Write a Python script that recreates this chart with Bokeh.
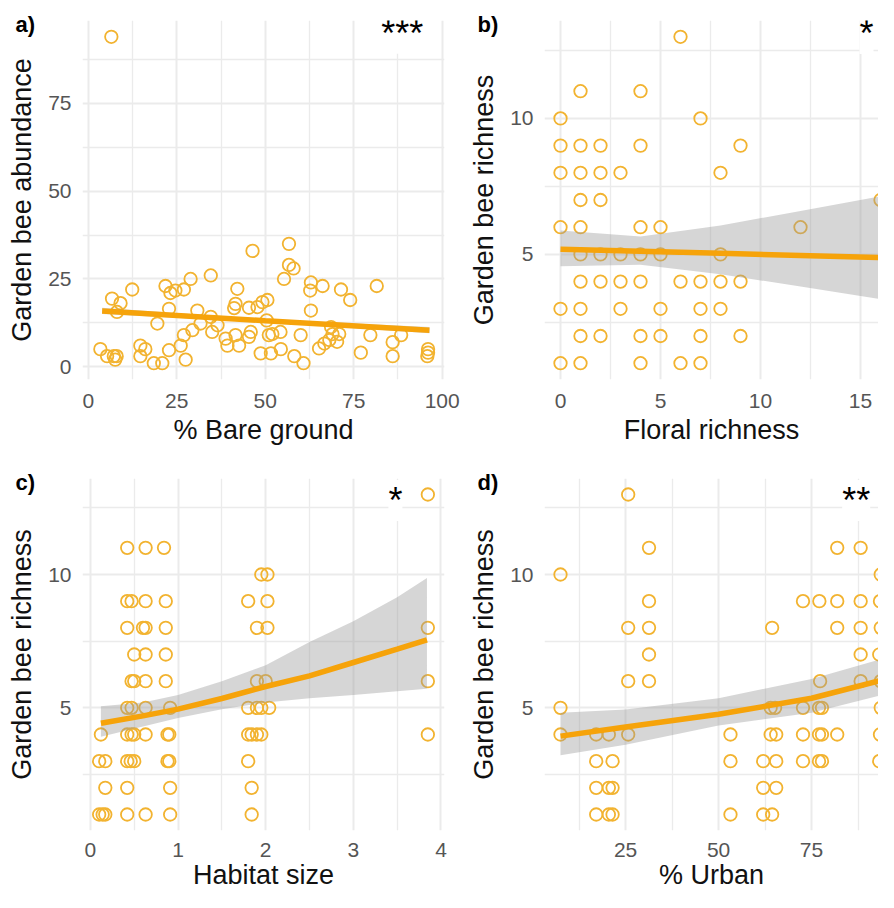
from bokeh.plotting import figure
from bokeh.models import FixedTicker, Label, Range1d
from bokeh.layouts import column, row
from bokeh.embed import file_html
from bokeh.resources import INLINE

# ---------------- data ----------------
# a) % bare ground vs garden bee abundance
a_bare = [6.5, 3.4, 5.3, 7.2, 7.6, 8.0, 6.7, 9.1, 8.1, 12.4, 14.7, 16.1, 14.7, 18.5, 20.9,
          19.5, 21.8, 23.2, 24.6, 27.0, 22.8, 22.8, 26.1, 27.0, 27.5, 29.4, 28.9, 30.8, 31.7,
          34.6, 34.6, 35.0, 36.5, 38.8, 39.3, 41.6, 41.2, 42.1, 41.6, 42.6, 45.4, 45.9, 46.4,
          45.4, 47.8, 49.2, 48.7, 50.6, 50.4, 51.6, 52.0, 54.3, 51.0, 54.4, 55.3, 56.7, 56.7,
          58.0, 58.2, 60.8, 60.0, 62.9, 62.7, 66.2, 62.9, 65.2, 66.7, 68.1, 69.0, 70.9, 70.3,
          68.6, 71.4, 74.0, 77.0, 79.7, 81.5, 86.0, 86.0, 88.4, 96.0, 96.0, 95.8]
a_abund = [94, 5, 3, 3, 2, 3, 19.4, 18.1, 15.6, 22, 6, 5, 3, 1, 1,
           12.3, 23, 21, 21.7, 22, 16.5, 4.7, 6, 9, 2, 10.4, 25, 16, 12.3,
           26, 14.2, 9.9, 11.8, 8, 6, 17.9, 16.7, 22.2, 9, 6, 8.5, 9.9, 33,
           16.8, 17, 18.4, 3.8, 19, 13.2, 3.8, 9.3, 9.9, 9, 5, 25, 35, 29,
           28, 3, 1, 9, 24, 21.7, 23, 16, 5.2, 6.6, 7.6, 9.3, 9.3, 7.1,
           11.3, 22, 19, 4, 9, 23, 7, 3, 9, 5, 4, 3]
a_fit_x = [3.9, 50.0, 96.4]
a_fit_y = [15.9, 13.1, 10.4]
a_fit_lo = [15.0, 12.7, 9.5]
a_fit_hi = [16.8, 13.5, 11.3]

# b) floral richness vs garden bee richness
b_floral = [6,
            1, 4,
            0, 7,
            0, 1, 2, 4, 9,
            0, 1, 2, 3, 8,
            1, 2, 16,
            0, 1, 4, 5, 12,
            1, 2, 3, 4, 5, 8,
            1, 2, 3, 4, 6, 7, 8, 9,
            0, 1, 3, 5, 7, 8,
            1, 2, 4, 5, 7, 9,
            0, 1, 4, 6, 7]
b_rich = [13,
          11, 11,
          10, 10,
          9, 9, 9, 9, 9,
          8, 8, 8, 8, 8,
          7, 7, 7,
          6, 6, 6, 6, 6,
          5, 5, 5, 5, 5, 5,
          4, 4, 4, 4, 4, 4, 4, 4,
          3, 3, 3, 3, 3, 3,
          2, 2, 2, 2, 2, 2,
          1, 1, 1, 1, 1]
b_fit_x = [0, 4, 8, 12, 16]
b_fit_y = [5.19, 5.12, 5.04, 4.96, 4.88]
b_fit_lo = [4.56, 4.62, 4.27, 3.82, 3.35]
b_fit_hi = [5.88, 5.66, 6.06, 6.60, 7.14]

# c) habitat size vs garden bee richness
c_habitat = [3.85,
             0.42, 0.63, 0.84,
             1.95, 2.02,
             0.42, 0.47, 0.63, 0.86, 1.80, 2.02,
             0.42, 0.60, 0.63, 0.86, 1.90, 2.02, 3.85,
             0.50, 0.63, 0.86,
             0.47, 0.50, 0.63, 0.86, 1.90, 2.00, 3.85,
             0.42, 0.47, 0.63, 0.91, 1.80, 1.90, 1.95, 2.04,
             0.12, 0.42, 0.47, 0.50, 0.63, 0.88, 0.90, 1.80, 1.84, 1.90, 1.95, 3.85,
             0.10, 0.17, 0.42, 0.46, 0.50, 0.88, 0.90, 1.80,
             0.17, 0.42, 0.91, 1.84,
             0.10, 0.14, 0.17, 0.42, 0.63, 0.91, 1.84]
c_rich = [13,
          11, 11, 11,
          10, 10,
          9, 9, 9, 9, 9, 9,
          8, 8, 8, 8, 8, 8, 8,
          7, 7, 7,
          6, 6, 6, 6, 6, 6, 6,
          5, 5, 5, 5, 5, 5, 5, 5,
          4, 4, 4, 4, 4, 4, 4, 4, 4, 4, 4, 4,
          3, 3, 3, 3, 3, 3, 3, 3,
          2, 2, 2, 2,
          1, 1, 1, 1, 1, 1, 1]
c_fit_x = [0.12, 0.6, 1.0, 1.5, 2.0, 2.5, 3.0, 3.5, 3.84]
c_fit_y = [4.42, 4.70, 4.95, 5.35, 5.80, 6.20, 6.70, 7.20, 7.55]
c_fit_lo = [3.92, 4.30, 4.62, 4.95, 5.20, 5.36, 5.48, 5.62, 5.72]
c_fit_hi = [5.06, 5.20, 5.48, 6.00, 6.60, 7.47, 8.25, 9.15, 9.87]

# d) % urban vs garden bee richness
d_urban = [25.7,
           31.3, 81.9, 88.2,
           7.5, 93.6,
           31.3, 72.7, 77.1, 81.9, 88.2, 93.4,
           25.7, 31.3, 64.4, 81.9, 88.2, 93.6,
           31.3, 88.2, 93.2,
           25.7, 31.3, 77.3, 88.2, 93.6,
           7.5, 64.0, 65.2, 72.7, 77.0, 77.8, 93.6,
           7.5, 17.1, 20.5, 25.7, 53.2, 64.0, 65.5, 72.7, 77.0, 77.8, 81.9, 93.4,
           17.1, 21.5, 53.2, 62.0, 65.5, 72.7, 77.0, 77.8, 93.2,
           17.1, 20.5, 21.5, 62.0, 65.5,
           17.1, 20.5, 21.5, 53.2, 62.0, 64.4]
d_rich = [13,
          11, 11, 11,
          10, 10,
          9, 9, 9, 9, 9, 9,
          8, 8, 8, 8, 8, 8,
          7, 7, 7,
          6, 6, 6, 6, 6,
          5, 5, 5, 5, 5, 5, 5,
          4, 4, 4, 4, 4, 4, 4, 4, 4, 4, 4, 4,
          3, 3, 3, 3, 3, 3, 3, 3, 3,
          2, 2, 2, 2, 2,
          1, 1, 1, 1, 1, 1]
d_fit_x = [7.5, 25.0, 50.0, 75.0, 95.0]
d_fit_y = [3.94, 4.28, 4.76, 5.36, 6.08]
d_fit_lo = [3.22, 3.62, 4.34, 4.82, 5.52]
d_fit_hi = [4.82, 4.94, 5.36, 6.08, 6.88]

# ---------------- styling ----------------
FONT = "Liberation Sans"
PT_COLOR = "#F2B330"
LINE_COLOR = "#F6A30A"
GRID = "#EBEBEB"


def make_panel(w, h, left, right, top, bottom, xr, yr, tag):
    p = figure(width=w, height=h, x_range=Range1d(*xr), y_range=Range1d(*yr),
               output_backend="svg", toolbar_location=None,
               min_border_left=left, min_border_right=right,
               min_border_top=top, min_border_bottom=bottom)
    p.outline_line_color = None
    p.background_fill_color = "white"
    p.border_fill_color = "white"
    # panel tag ("a)", "b)", ...) at the top-left corner, level with the frame top
    p.title.text = tag
    p.title.text_font = FONT
    p.title.text_font_size = "22px"
    p.title.text_font_style = "bold"
    p.title.text_color = "black"
    p.title.align = "left"
    p.title.vertical_align = "bottom"
    p.title.offset = -67
    p.title.standoff = -32
    return p


def style(p, xt, xm, yt, ym, xlabel, ylabel, xstand, xtitle_stand):
    xtk = FixedTicker(ticks=xt, minor_ticks=xm)
    ytk = FixedTicker(ticks=yt, minor_ticks=ym)
    p.xaxis.ticker = xtk
    p.yaxis.ticker = ytk
    p.xgrid.ticker = xtk
    p.ygrid.ticker = ytk
    for g in (p.xgrid, p.ygrid):
        g.grid_line_color = GRID
        g.grid_line_width = 2
        g.minor_grid_line_color = GRID
        g.minor_grid_line_width = 1.3
    for ax in (p.xaxis, p.yaxis):
        ax.axis_line_color = None
        ax.major_tick_line_color = None
        ax.minor_tick_line_color = None
        ax.major_tick_out = 0
        ax.minor_tick_out = 0
        ax.major_tick_in = 0
        ax.minor_tick_in = 0
        ax.major_label_text_font = FONT
        ax.major_label_text_font_size = "21px"
        ax.major_label_text_color = "#555555"
        ax.axis_label_text_font = FONT
        ax.axis_label_text_font_size = "27px"
        ax.axis_label_text_font_style = "normal"
        ax.axis_label_text_color = "#111111"
    p.xaxis.axis_label = xlabel
    p.yaxis.axis_label = ylabel
    p.xaxis.major_label_standoff = xstand
    p.xaxis.axis_label_standoff = xtitle_stand
    p.yaxis.major_label_standoff = 11
    p.yaxis.axis_label_standoff = 8


def draw(p, xs, ys, fx, fy, flo, fhi):
    p.scatter(xs, ys, marker="circle", size=12.5, fill_color=None,
              line_color=PT_COLOR, line_width=1.8)
    p.varea(x=fx, y1=flo, y2=fhi, fill_color="#999999", fill_alpha=0.4)
    p.line(fx, fy, line_color=LINE_COLOR, line_width=5.5)


def stars(p, x, y, text):
    p.add_layout(Label(x=x, y=y, text=text, text_font=FONT, text_font_size="36px",
                       text_color="black", text_align="center", text_baseline="middle",
                       y_offset=-6, background_fill_color="white"))


# panel a
pa = make_panel(462, 447, 82, 18, 20, 66, (-1.65, 100.65), (-3.65, 98.65), "a)")
style(pa, [0, 25, 50, 75, 100], [12.5, 37.5, 62.5, 87.5],
      [0, 25, 50, 75], [12.5, 37.5, 62.5, 87.5],
      "% Bare ground", "Garden bee abundance", 14, 4)
draw(pa, a_bare, a_abund, a_fit_x, a_fit_y, a_fit_lo, a_fit_hi)
stars(pa, 88.7, 96.7, "***")

# panel b
pb = make_panel(416, 447, 82, 0, 20, 66, (-0.8, 15.9), (0.4, 13.6), "b)")
style(pb, [0, 5, 10, 15], [2.5, 7.5, 12.5],
      [5, 10], [2.5, 7.5, 12.5],
      "Floral richness", "Garden bee richness", 14, 4)
draw(pb, b_floral, b_rich, b_fit_x, b_fit_y, b_fit_lo, b_fit_hi)
stars(pb, 15.3, 13.34, "*")

# panel c
pc = make_panel(462, 445, 82, 18, 31, 60, (-0.09, 4.04), (0.4, 13.6), "c)")
style(pc, [0, 1, 2, 3, 4], [0.5, 1.5, 2.5, 3.5],
      [5, 10], [2.5, 7.5, 12.5],
      "Habitat size", "Garden bee richness", 12, 0)
draw(pc, c_habitat, c_rich, c_fit_x, c_fit_y, c_fit_lo, c_fit_hi)
stars(pc, 3.48, 13.0, "*")

# panel d
pd_ = make_panel(416, 445, 82, 0, 31, 60, (3.2, 93.0), (0.4, 13.6), "d)")
style(pd_, [25, 50, 75], [12.5, 37.5, 62.5, 87.5],
      [5, 10], [2.5, 7.5, 12.5],
      "% Urban", "Garden bee richness", 12, 0)
draw(pd_, d_urban, d_rich, d_fit_x, d_fit_y, d_fit_lo, d_fit_hi)
stars(pd_, 87.0, 13.0, "**")

layout = column(row(pa, pb), row(pc, pd_))
open("out.html", "w").write(file_html(layout, INLINE))
